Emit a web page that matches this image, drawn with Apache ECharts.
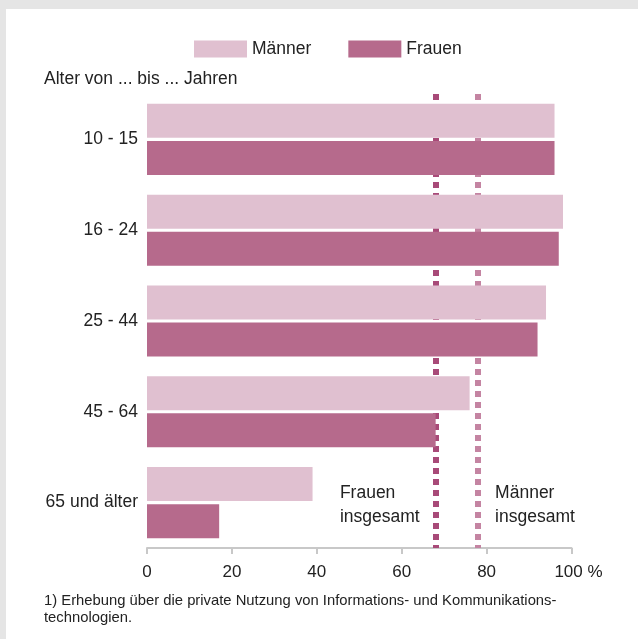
<!DOCTYPE html>
<html>
<head>
<meta charset="utf-8">
<script src="https://cdn.jsdelivr.net/npm/echarts@6/dist/echarts.min.js"></script>
<style>
html,body{margin:0;padding:0;background:#e5e5e5;width:638px;height:639px;overflow:hidden;}
#panel{position:absolute;left:6px;top:9px;width:632px;height:630px;background:#fff;}
#chart{position:absolute;left:0;top:0;width:638px;height:639px;}
</style>
</head>
<body>
<div id="panel"></div>
<div id="chart"></div>
<script>
const categories = ['10 - 15', '16 - 24', '25 - 44', '45 - 64', '65 und älter'];
const maenner = [96, 98, 94, 76, 39];
const frauen = [96, 97, 92, 68, 17];
const frauenInsgesamt = 68;
const maennerInsgesamt = 78;
const xMin = 0, xMax = 100, xStep = 20;

const FONT = 'Liberation Sans, Arial, sans-serif';
const TXT = '#222';

const chart = echarts.init(document.getElementById('chart'), null, {renderer: 'canvas'});
const option = {
  backgroundColor: 'transparent',
  animation: false,
  textStyle: {fontFamily: FONT, color: TXT},
  title: {
    text: 'Alter von ... bis ... Jahren',
    left: 39, top: 65,
    textStyle: {fontFamily: FONT, fontSize: 17.5, fontWeight: 'normal', color: TXT}
  },
  legend: {
    data: ['Männer', 'Frauen'],
    left: 189, top: 35,
    icon: 'rect',
    itemWidth: 53, itemHeight: 17, itemGap: 37,
    textStyle: {fontFamily: FONT, fontSize: 17.5, color: TXT}
  },
  grid: {left: 147, right: 66.5, top: 94, bottom: 91, containLabel: false},
  xAxis: {
    type: 'value', min: xMin, max: xMax, interval: xStep,
    axisLine: {show: true, lineStyle: {color: '#c8c8c8', width: 2}},
    axisTick: {show: true, length: 6, lineStyle: {color: '#c8c8c8', width: 2}},
    splitLine: {show: false},
    axisLabel: {
      margin: 16, fontSize: 17, color: TXT, fontFamily: FONT,
      formatter: v => v === xMax ? '{pad|}' + v + ' %' : String(v),
      rich: {pad: {width: 14}}
    }
  },
  yAxis: {
    type: 'category', data: categories, inverse: true,
    axisLine: {show: false}, axisTick: {show: false},
    axisLabel: {margin: 9, fontSize: 17.5, color: TXT, fontFamily: FONT}
  },
  series: [
    {
      name: 'Männer', type: 'bar', data: maenner, barWidth: 34, barGap: '9%', z: 3,
      itemStyle: {color: '#e0c0d0'},
      markLine: {
        silent: true, symbol: 'none', z: 1,
        label: {show: false},
        lineStyle: {color: '#c484a2', width: 6, type: [6, 5]},
        data: [{xAxis: maennerInsgesamt}]
      }
    },
    {
      name: 'Frauen', type: 'bar', data: frauen, barWidth: 34, z: 3,
      itemStyle: {color: '#b66a8c'},
      markLine: {
        silent: true, symbol: 'none', z: 1,
        label: {show: false},
        lineStyle: {color: '#a84a78', width: 6, type: [6, 5]},
        data: [{xAxis: frauenInsgesamt}]
      }
    }
  ]
};
chart.setOption(option);

const pf = chart.convertToPixel({xAxisIndex: 0}, frauenInsgesamt);
const pm = chart.convertToPixel({xAxisIndex: 0}, maennerInsgesamt);
chart.setOption({
  graphic: [
    {type: 'text', right: 638 - (pf - 16), top: 481,
     style: {text: 'Frauen\ninsgesamt', fill: TXT, font: '17.5px ' + FONT, lineHeight: 24, textAlign: 'left'}},
    {type: 'text', left: pm + 17, top: 481,
     style: {text: 'Männer\ninsgesamt', fill: TXT, font: '17.5px ' + FONT, lineHeight: 24, textAlign: 'left'}},
    {type: 'text', left: 44, top: 592,
     style: {text: '1) Erhebung über die private Nutzung von Informations- und Kommunikations-\ntechnologien.',
             fill: TXT, font: '14.8px ' + FONT, lineHeight: 17}}
  ]
});
</script>
</body>
</html>
